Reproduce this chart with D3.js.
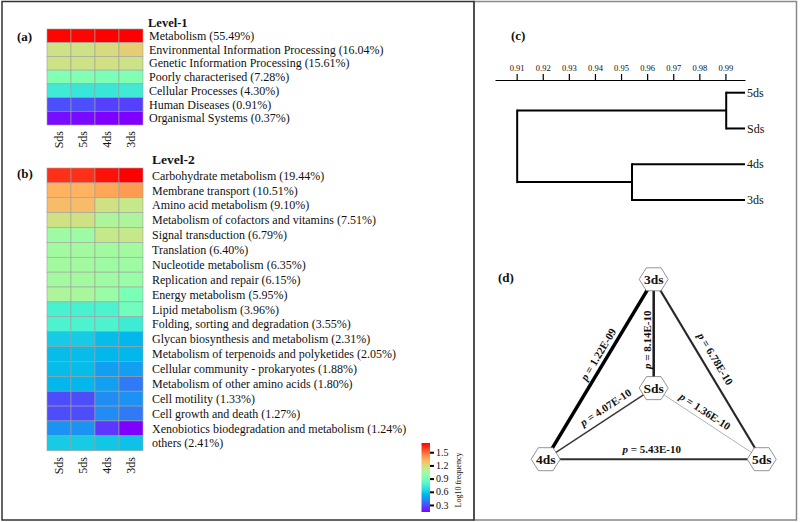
<!DOCTYPE html>
<html><head><meta charset="utf-8">
<script src="https://cdn.jsdelivr.net/npm/d3@7"></script>
<style>
body{margin:0;background:#fff}
svg{display:block}
text{font-family:"Liberation Serif","Times New Roman",serif;fill:#111}
</style>
</head><body>
<svg id="chart" width="800" height="522"></svg>
<script>
// ---------------- DATA ----------------
const samples = ["Sds", "5ds", "4ds", "3ds"];

const level1Labels = [
  "Metabolism (55.49%)",
  "Environmental Information Processing (16.04%)",
  "Genetic Information Processing (15.61%)",
  "Poorly characterised (7.28%)",
  "Cellular Processes (4.30%)",
  "Human Diseases (0.91%)",
  "Organismal Systems (0.37%)"
];
// log10 frequency per sample (Sds, 5ds, 4ds, 3ds)
const level1Values = [
  [1.74, 1.74, 1.75, 1.75],
  [1.19, 1.19, 1.22, 1.27],
  [1.19, 1.19, 1.20, 1.19],
  [0.95, 0.95, 0.93, 0.95],
  [0.74, 0.72, 0.72, 0.74],
  [0.30, 0.30, 0.27, 0.27],
  [0.17, 0.16, 0.14, 0.14]
];

const level2Labels = [
  "Carbohydrate metabolism (19.44%)",
  "Membrane transport (10.51%)",
  "Amino acid metabolism (9.10%)",
  "Metabolism of cofactors and vitamins (7.51%)",
  "Signal transduction (6.79%)",
  "Translation (6.40%)",
  "Nucleotide metabolism (6.35%)",
  "Replication and repair (6.15%)",
  "Energy metabolism (5.95%)",
  "Lipid metabolism (3.96%)",
  "Folding, sorting and degradation (3.55%)",
  "Glycan biosynthesis and metabolism (2.31%)",
  "Metabolism of terpenoids and polyketides (2.05%)",
  "Cellular community - prokaryotes (1.88%)",
  "Metabolism of other amino acids (1.80%)",
  "Cell motility (1.33%)",
  "Cell growth and death (1.27%)",
  "Xenobiotics biodegradation and metabolism (1.24%)",
  "others (2.41%)"
];
const level2Values = [
  [1.27, 1.27, 1.31, 1.33],
  [1.08, 1.08, 1.10, 1.12],
  [1.06, 1.06, 0.98, 0.96],
  [0.98, 0.98, 0.91, 0.91],
  [0.88, 0.88, 0.96, 0.96],
  [0.89, 0.89, 0.89, 0.89],
  [0.89, 0.89, 0.88, 0.88],
  [0.89, 0.89, 0.88, 0.87],
  [0.91, 0.90, 0.87, 0.81],
  [0.71, 0.71, 0.72, 0.79],
  [0.72, 0.72, 0.72, 0.69],
  [0.61, 0.61, 0.58, 0.57],
  [0.58, 0.58, 0.57, 0.57],
  [0.58, 0.58, 0.53, 0.53],
  [0.57, 0.57, 0.53, 0.47],
  [0.41, 0.41, 0.50, 0.51],
  [0.41, 0.41, 0.50, 0.47],
  [0.51, 0.51, 0.38, 0.31],
  [0.61, 0.61, 0.60, 0.59]
];

const colorbarTicks = [0.3, 0.6, 0.9, 1.2, 1.5];
const colorbarDomain = [0.14, 1.71];

// dendrogram (similarity)
const dendroLeaves = ["5ds", "Sds", "4ds", "3ds"];
const dendroClusters = [
  { name: "A", children: ["5ds", "Sds"], height: 0.9903 },
  { name: "B", children: ["4ds", "3ds"], height: 0.9542 },
  { name: "root", children: ["A", "B"], height: 0.9102 }
];
const dendroTicks = [0.91, 0.92, 0.93, 0.94, 0.95, 0.96, 0.97, 0.98, 0.99];
const dendroAxisDomain = [0.9017, 0.9975];

// network
const netNodes = ["3ds", "Sds", "4ds", "5ds"];
const netEdges = [
  { source: "4ds", target: "3ds", p: 1.22e-9, label: "1.22E-09" },
  { source: "Sds", target: "3ds", p: 8.14e-10, label: "8.14E-10" },
  { source: "3ds", target: "5ds", p: 6.78e-10, label: "6.78E-10" },
  { source: "4ds", target: "Sds", p: 4.07e-10, label: "4.07E-10" },
  { source: "Sds", target: "5ds", p: 1.36e-10, label: "1.36E-10" },
  { source: "4ds", target: "5ds", p: 5.43e-10, label: "5.43E-10" }
];

// ---------------- LAYOUT (positions only) ----------------
const netLayout = { "3ds": [0.5, 0], "Sds": [0.5, 0.605], "4ds": [0, 1], "5ds": [1, 1] };
const edgeLabelPlacement = {
  "4ds-3ds": { along: 12, off: -5 },
  "Sds-3ds": { along: -6, off: -2.5 },
  "3ds-5ds": { along: -5, off: -8 },
  "4ds-Sds": { along: 14, off: -6.5 },
  "Sds-5ds": { along: -9, off: -5 },
  "4ds-5ds": { along: -2, off: -6.5 }
};

// ---------------- DRAWING ----------------
const svg = d3.select("#chart");

function rainbow(t) {
  t = Math.max(0, Math.min(1, t));
  const r = Math.min(1, Math.abs(2 * t - 0.5));
  const g = Math.sin(Math.PI * t);
  const b = Math.cos(Math.PI * t / 2);
  return d3.rgb(r * 255, g * 255, b * 255).formatHex();
}

// frames
svg.append("rect").attr("x", 474).attr("y", 1.5).attr("width", 322.5).attr("height", 518.5)
  .attr("fill", "none").attr("stroke", "#888").attr("stroke-width", 1.5);
svg.append("rect").attr("x", 2).attr("y", 1.5).attr("width", 472).attr("height", 518.5)
  .attr("fill", "none").attr("stroke", "#333").attr("stroke-width", 1.5);

function drawHeat(opts) {
  const { labels, values, x0, x1, y0, y1, labelX, colLabelY, title, titleX, titleY, tag, tagY, titleSize } = opts;
  const g = svg.append("g");
  const xs = d3.scaleBand().domain(samples).range([x0, x1]);
  const ys = d3.scaleBand().domain(d3.range(labels.length)).range([y0, y1]);
  const ext = d3.extent(values.flat());
  const cs = d3.scaleLinear().domain(ext).range([0, 1]);
  values.forEach((row, i) => {
    row.forEach((v, j) => {
      g.append("rect")
        .attr("x", xs(samples[j])).attr("y", ys(i))
        .attr("width", xs.bandwidth()).attr("height", ys.bandwidth())
        .attr("fill", rainbow(cs(v)))
        .attr("stroke", "#a0a0a0").attr("stroke-width", 0.6);
    });
    g.append("text").attr("x", labelX).attr("y", ys(i) + ys.bandwidth() / 2)
      .attr("dy", "0.35em").attr("font-size", 12).text(labels[i]);
  });
  samples.forEach(s => {
    g.append("text")
      .attr("transform", `translate(${xs(s) + xs.bandwidth() / 2},${colLabelY}) rotate(-90)`)
      .attr("text-anchor", "end").attr("dy", "0.35em").attr("font-size", 12).text(s);
  });
  g.append("text").attr("x", titleX).attr("y", titleY).attr("font-weight", "bold")
    .attr("font-size", titleSize).text(title);
  g.append("text").attr("x", 17).attr("y", tagY).attr("font-weight", "bold")
    .attr("font-size", 13).text(tag);
}

drawHeat({ labels: level1Labels, values: level1Values, x0: 47, x1: 143, y0: 29, y1: 125,
  labelX: 149, colLabelY: 131, title: "Level-1", titleX: 148, titleY: 27, tag: "(a)", tagY: 41, titleSize: 12.5 });
drawHeat({ labels: level2Labels, values: level2Values, x0: 47, x1: 143, y0: 168, y1: 450.7,
  labelX: 152, colLabelY: 457, title: "Level-2", titleX: 152, titleY: 164, tag: "(b)", tagY: 178, titleSize: 13.5 });

// colorbar
(function () {
  const cy = d3.scaleLinear().domain(colorbarDomain).range([512, 443]);
  const defs = svg.append("defs");
  const grad = defs.append("linearGradient").attr("id", "cbar")
    .attr("x1", 0).attr("y1", 1).attr("x2", 0).attr("y2", 0);
  d3.range(0, 1.0001, 0.05).forEach(t => {
    grad.append("stop").attr("offset", t).attr("stop-color", rainbow(t));
  });
  svg.append("rect").attr("x", 421.5).attr("y", 443).attr("width", 8.5).attr("height", 69)
    .attr("fill", "url(#cbar)");
  const ax = svg.append("g").attr("transform", "translate(430,0)")
    .call(d3.axisRight(cy).tickValues(colorbarTicks).tickSize(4).tickFormat(d3.format(".1f")));
  ax.select(".domain").remove();
  ax.selectAll(".tick line").attr("stroke", "#000").attr("stroke-width", 2);
  ax.selectAll(".tick text").attr("font-size", 10).attr("x", 6)
    .attr("font-family", "Liberation Serif, serif").attr("fill", "#222");
  svg.append("text").attr("transform", "translate(458,480) rotate(-90)")
    .attr("text-anchor", "middle").attr("dy", "0.35em").attr("font-size", 8).text("Log10 frequency");
})();

// dendrogram
(function () {
  const x = d3.scaleLinear().domain(dendroAxisDomain).range([495, 745]);
  const y = d3.scalePoint().domain(dendroLeaves).range([92.7, 200]);
  svg.append("text").attr("x", 511).attr("y", 40).attr("font-weight", "bold").attr("font-size", 13).text("(c)");
  const ax = svg.append("g").attr("transform", "translate(0,80)")
    .call(d3.axisTop(x).tickValues(dendroTicks).tickSize(6).tickSizeOuter(0).tickFormat(d3.format(".2f")));
  ax.select(".domain").attr("stroke", "#000").attr("stroke-width", 1.2);
  ax.selectAll(".tick line").attr("stroke", "#000").attr("stroke-width", 1.2);
  ax.selectAll(".tick text").attr("font-size", 8.5).attr("font-family", "Liberation Serif, serif")
    .attr("fill", "#111").attr("y", -9);
  const pos = {};
  dendroLeaves.forEach(l => { pos[l] = { x: x(dendroAxisDomain[1]), y: y(l) }; });
  const g = svg.append("g").attr("fill", "none").attr("stroke", "#000").attr("stroke-width", 2);
  dendroClusters.forEach(c => {
    const xm = x(c.height);
    const ys = c.children.map(ch => pos[ch].y);
    c.children.forEach(ch => {
      g.append("line").attr("x1", xm).attr("x2", pos[ch].x).attr("y1", pos[ch].y).attr("y2", pos[ch].y);
    });
    g.append("line").attr("x1", xm).attr("x2", xm).attr("y1", d3.min(ys) - 1).attr("y2", d3.max(ys) + 1);
    pos[c.name] = { x: xm, y: d3.mean(ys) };
  });
  dendroLeaves.forEach(l => {
    svg.append("text").attr("x", x(dendroAxisDomain[1]) + 2).attr("y", y(l)).attr("dy", "0.35em")
      .attr("font-size", 12).text(l);
  });
})();

// network
(function () {
  const nx = d3.scaleLinear().domain([0, 1]).range([545.7, 761.7]);
  const ny = d3.scaleLinear().domain([0, 1]).range([279.3, 459.2]);
  const P = n => [nx(netLayout[n][0]), ny(netLayout[n][1])];
  const pExt = d3.extent(netEdges, d => d.p);
  const w = d3.scaleLinear().domain(pExt).range([0.9, 3.5]);
  const col = d3.scaleLinear().domain([pExt[0], 4.07e-10, pExt[1]]).range(["#a8a8a8", "#3a3a3a", "#000"]);
  svg.append("text").attr("x", 498).attr("y", 282).attr("font-weight", "bold").attr("font-size", 13).text("(d)");
  const ge = svg.append("g");
  netEdges.forEach(e => {
    const [x1, y1] = P(e.source), [x2, y2] = P(e.target);
    ge.append("line").attr("x1", x1).attr("y1", y1).attr("x2", x2).attr("y2", y2)
      .attr("stroke", col(e.p)).attr("stroke-width", w(e.p));
    const ang = Math.atan2(y2 - y1, x2 - x1) * 180 / Math.PI;
    const mx = (x1 + x2) / 2, my = (y1 + y2) / 2;
    const pl = edgeLabelPlacement[e.source + "-" + e.target];
    const t = ge.append("text").attr("transform", `translate(${mx},${my}) rotate(${ang})`)
      .attr("x", pl.along).attr("y", pl.off).attr("text-anchor", "middle")
      .attr("font-size", 11).attr("font-weight", "bold");
    t.append("tspan").attr("font-style", "italic").text("p");
    t.append("tspan").text(" = " + e.label);
  });
  const hex = "M-14.5,0 L-7.3,-11.5 L7.3,-11.5 L14.5,0 L7.3,11.5 L-7.3,11.5 Z";
  netNodes.forEach(n => {
    const [x, y] = P(n);
    const g = svg.append("g").attr("transform", `translate(${x},${y})`);
    g.append("path").attr("d", hex).attr("fill", "#fff").attr("stroke", "#777").attr("stroke-width", 0.8);
    g.append("text").attr("text-anchor", "middle").attr("dy", "0.35em").attr("font-weight", "bold")
      .attr("font-size", 13.5).text(n);
  });
})();
</script>
</body></html>
